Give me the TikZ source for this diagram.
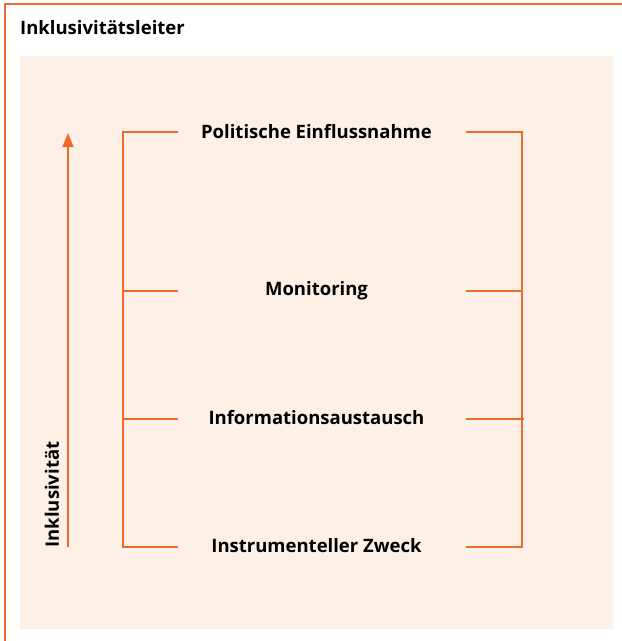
\documentclass[tikz,border=0pt]{standalone}
\usepackage{fontspec}
\setmainfont{Open Sans}
\usetikzlibrary{arrows.meta}
\definecolor{orng}{RGB}{236,106,42}
\definecolor{bgc}{RGB}{253,240,231}
\tikzset{
  lbl/.style={font=\fontsize{18.5}{20}\selectfont\bfseries, text=black, inner sep=0pt},
  brk/.style={draw=orng, line width=1.5pt},
}
\begin{document}
\begin{tikzpicture}[x=1pt,y=-1pt]
\useasboundingbox (0,0) rectangle (622,641);
\fill[white] (0,0) rectangle (622,641);
\fill[bgc] (20,56) rectangle (613,629);
\draw[orng, line width=2pt] (622,4) -- (5,4) -- (5,641);
\node[lbl, anchor=west] (title) at (20,28) {Inklusivitätsleiter};
% labels
\node[lbl] (l1) at (316.5,132) {Politische Einflussnahme};
\node[lbl] (l2) at (316.5,291) {Monitoring};
\node[lbl] (l3) at (316.5,418) {Informationsaustausch};
\node[lbl] (l4) at (316.5,546) {Instrumenteller Zweck};
% bracket coordinates
\coordinate (a1) at (123,132); \coordinate (b1) at (178,132);
\coordinate (a2) at (123,291); \coordinate (b2) at (178,291);
\coordinate (a3) at (123,419); \coordinate (b3) at (178,419);
\coordinate (a4) at (123,547); \coordinate (b4) at (178,547);
\coordinate (c1) at (466,132); \coordinate (d1) at (522,132);
\coordinate (c2) at (466,291); \coordinate (d2) at (522,291);
\coordinate (c3) at (466,419); \coordinate (d3) at (524,419);
\coordinate (c4) at (466,547); \coordinate (d4) at (522,547);
\draw[brk] (b1) -- (a1) -- (a4) -- (b4);
\draw[brk] (a2) -- (b2);
\draw[brk] (a3) -- (b3);
\draw[brk] (c1) -- (d1) -- (d4) -- (c4);
\draw[brk] (c2) -- (d2);
\draw[brk] (c3) -- (d3);
% arrow
\coordinate (ar0) at (68,547);
\coordinate (ar1) at (68,133);
\draw[orng, line width=1.5pt, -{Triangle[length=14pt,width=11pt]}] (ar0) -- (ar1);
\node[lbl, rotate=90] (incl) at (52,494.5) {Inklusivität};
\end{tikzpicture}
\end{document}
